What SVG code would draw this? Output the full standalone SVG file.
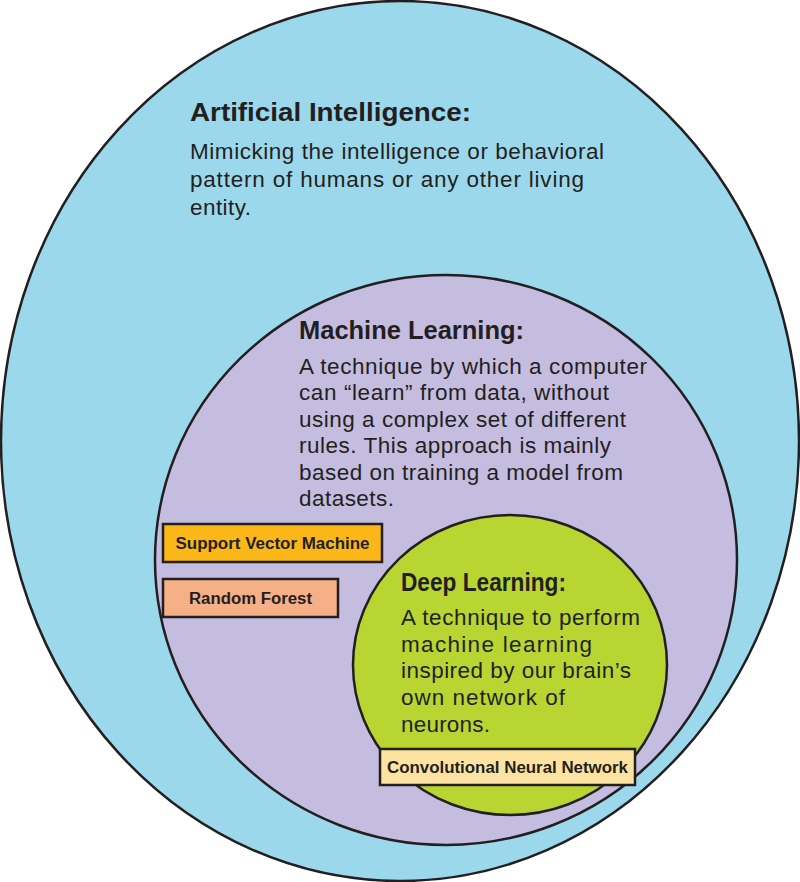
<svg xmlns="http://www.w3.org/2000/svg" width="800" height="882" viewBox="0 0 800 882">
<style>
.ring{stroke:#231f20;stroke-width:2.5}
.h{font-family:"Liberation Sans",Arial,sans-serif;font-weight:bold;font-size:25.5px;fill:#231f20}
.b{font-family:"Liberation Sans",Arial,sans-serif;font-size:22.5px;fill:#231f20}
.box{stroke:#231f20;stroke-width:2.5}
.bl{font-family:"Liberation Sans",Arial,sans-serif;font-weight:bold;font-size:16px;fill:#231f20;text-anchor:middle}
</style>
<rect width="800" height="882" fill="#ffffff"/>
<g id="ai">
<ellipse class="ring" cx="400" cy="441" rx="399" ry="440" fill="#9bd8eb"/>
<text class="h" x="190" y="121" textLength="281" lengthAdjust="spacingAndGlyphs">Artificial Intelligence:</text>
<text class="b" x="190" y="159" textLength="414" lengthAdjust="spacing">Mimicking the intelligence or behavioral</text>
<text class="b" x="190" y="187" textLength="394" lengthAdjust="spacing">pattern of humans or any other living</text>
<text class="b" x="190" y="215" textLength="61" lengthAdjust="spacing">entity.</text>
</g>
<g id="ml">
<ellipse class="ring" cx="446" cy="560" rx="291" ry="285" fill="#c4bddf"/>
<text class="h" x="299" y="339" textLength="225" lengthAdjust="spacingAndGlyphs">Machine Learning:</text>
<text class="b" x="299" y="374" textLength="348" lengthAdjust="spacing">A technique by which a computer</text>
<text class="b" x="299" y="400" textLength="310" lengthAdjust="spacing">can “learn” from data, without</text>
<text class="b" x="299" y="427" textLength="327" lengthAdjust="spacing">using a complex set of different</text>
<text class="b" x="299" y="453" textLength="312" lengthAdjust="spacing">rules. This approach is mainly</text>
<text class="b" x="299" y="480" textLength="324" lengthAdjust="spacing">based on training a model from</text>
<text class="b" x="299" y="506" textLength="95" lengthAdjust="spacing">datasets.</text>
</g>
<g id="svm">
<rect class="box" x="163" y="524" width="219" height="38" fill="#fbb718"/>
<text class="bl" x="272.5" y="549" textLength="194" lengthAdjust="spacingAndGlyphs">Support Vector Machine</text>
</g>
<g id="rf">
<rect class="box" x="163" y="579" width="175" height="38" fill="#f6af87"/>
<text class="bl" x="250.5" y="604" textLength="123" lengthAdjust="spacingAndGlyphs">Random Forest</text>
</g>
<g id="dl">
<ellipse class="ring" cx="510" cy="665" rx="157" ry="150" fill="#b9d532"/>
<text class="h" x="401" y="591" textLength="165" lengthAdjust="spacingAndGlyphs">Deep Learning:</text>
<text class="b" x="401" y="625" textLength="239" lengthAdjust="spacing">A technique to perform</text>
<text class="b" x="401" y="652" textLength="191" lengthAdjust="spacing">machine learning</text>
<text class="b" x="401" y="678" textLength="230" lengthAdjust="spacing">inspired by our brain’s</text>
<text class="b" x="401" y="705" textLength="164" lengthAdjust="spacing">own network of</text>
<text class="b" x="401" y="732" textLength="89" lengthAdjust="spacing">neurons.</text>
</g>
<g id="cnn">
<rect class="box" x="380" y="749" width="255" height="36" fill="#fde3a1"/>
<text class="bl" x="507.5" y="773" textLength="241" lengthAdjust="spacingAndGlyphs">Convolutional Neural Network</text>
</g>
<g id="connectors"></g>
</svg>
